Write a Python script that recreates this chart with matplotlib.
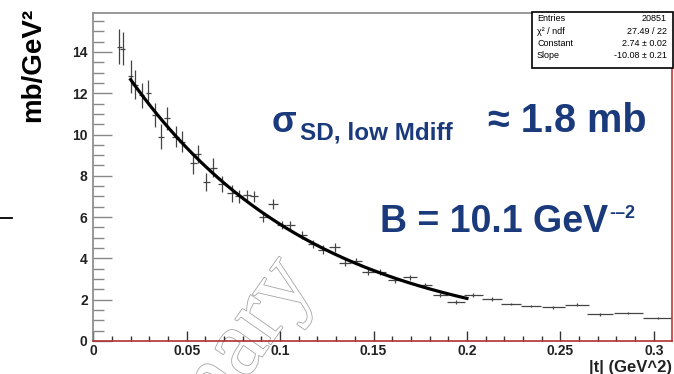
import numpy as np
import matplotlib
matplotlib.use('Agg')
from matplotlib import pyplot as plt
from matplotlib import patheffects as pe
from matplotlib.patches import Rectangle
from matplotlib.ticker import MultipleLocator

# |t| bin centres, cross sections and errors
t_vals = [0.0139, 0.0157, 0.0200, 0.0223, 0.0259, 0.0295, 0.0330, 0.0361, 0.0393, 0.0440,
          0.0475, 0.0535, 0.0558, 0.0605, 0.0642, 0.0690, 0.0740, 0.0780, 0.0822, 0.0862,
          0.0910, 0.0962, 0.1008, 0.1055, 0.1116, 0.1178, 0.1231, 0.1292, 0.1347, 0.1408,
          0.1472, 0.1535, 0.1615, 0.1695, 0.1776, 0.1856, 0.1940, 0.2034, 0.2133, 0.2236,
          0.2343, 0.2463, 0.2588, 0.2712, 0.2864, 0.3025]
dsig = [14.25, 14.15, 12.83, 12.40, 11.90, 12.02, 10.94, 9.90, 10.78, 9.90,
        9.65, 8.60, 9.05, 7.71, 8.40, 7.60, 7.15, 7.00, 7.07, 7.00,
        6.02, 6.62, 5.62, 5.62, 5.13, 4.70, 4.43, 4.53, 3.80, 3.86,
        3.36, 3.36, 2.95, 3.08, 2.71, 2.23, 1.90, 2.23, 2.03, 1.79,
        1.69, 1.63, 1.76, 1.29, 1.34, 1.10]
dsig_err = [0.85, 0.80, 0.80, 0.70, 0.60, 0.60, 0.60, 0.60, 0.55, 0.50,
            0.50, 0.50, 0.45, 0.45, 0.45, 0.40, 0.40, 0.30, 0.25, 0.25,
            0.25, 0.25, 0.20, 0.20, 0.20, 0.20, 0.20, 0.20, 0.15, 0.15,
            0.15, 0.15, 0.12, 0.12, 0.12, 0.10, 0.10, 0.08, 0.08, 0.06,
            0.06, 0.06, 0.06, 0.06, 0.05, 0.05]
t_halfbin = [0.0012, 0.0012, 0.0015, 0.0015, 0.0015, 0.0015, 0.0015, 0.0015, 0.0015, 0.0018,
             0.0018, 0.0020, 0.0020, 0.0020, 0.0020, 0.0022, 0.0022, 0.0022, 0.0022, 0.0022,
             0.0025, 0.0025, 0.0025, 0.0025, 0.0027, 0.0027, 0.0027, 0.0030, 0.0030, 0.0030,
             0.0032, 0.0032, 0.0035, 0.0035, 0.0038, 0.0040, 0.0047, 0.0052, 0.0052, 0.0055,
             0.0055, 0.0060, 0.0065, 0.0069, 0.0079, 0.0080]

# exponential fit, from the stats box
fit_const = 2.74
fit_slope = -10.08
fit_range = (0.02, 0.2)

stats_names = ['Entries', 'χ² / ndf', 'Constant', 'Slope']
stats_values = ['20851', '27.49 / 22', '2.74 ± 0.02', '-10.08 ± 0.21']

plt.rcParams['font.family'] = ['Liberation Sans', 'DejaVu Sans']
navy = '#1a3a7c'
W, H = 674, 374

fig = plt.figure(figsize=(W / 100, H / 100), dpi=100)
ax = fig.add_axes([93.3 / W, 1 - 341 / H, (671.7 - 93.3) / W, (341 - 13.3) / H])
ax.patch.set_visible(False)

ax.errorbar(t_vals, dsig, yerr=dsig_err, xerr=t_halfbin, fmt='none',
            ecolor='#444444', elinewidth=0.9, capsize=0, zorder=2)
tf = np.linspace(fit_range[0], fit_range[1], 200)
ax.plot(tf, np.exp(fit_const + fit_slope * tf), color='black', lw=2.3, zorder=3)

ax.set_xlim(0, 0.3096)
ax.set_ylim(0, 15.87)
ax.xaxis.set_major_locator(MultipleLocator(0.05))
ax.xaxis.set_minor_locator(MultipleLocator(0.01))
ax.yaxis.set_major_locator(MultipleLocator(2))
ax.yaxis.set_minor_locator(MultipleLocator(0.5))
ax.set_xticks([0, 0.05, 0.1, 0.15, 0.2, 0.25, 0.3])
ax.set_xticklabels(['0', '0.05', '0.1', '0.15', '0.2', '0.25', '0.3'])
ax.set_yticks([0, 2, 4, 6, 8, 10, 12, 14])

ax.tick_params(axis='y', which='major', direction='in', length=14, width=1, color='#888888',
               labelsize=10, pad=4, right=False)
ax.tick_params(axis='y', which='minor', direction='in', length=8, width=1, color='#888888', right=False)
ax.tick_params(axis='x', which='major', direction='in', length=7, width=1, color='#333333',
               labelsize=10, pad=2, top=False)
ax.tick_params(axis='x', which='minor', direction='in', length=3.6, width=1, color='#333333', top=False)
for lab in ax.get_xticklabels() + ax.get_yticklabels():
    lab.set_fontweight('bold')
    lab.set_color('#222222')

ax.spines['left'].set_color('#888888')
ax.spines['top'].set_color('#888888')
ax.spines['right'].set_color('#cc3333')
ax.spines['bottom'].set_color('#b03030')
for s in ax.spines.values():
    s.set_linewidth(1.2)

# axis titles
fig.text(33 / W, 1 - 8 / H, 'mb/GeV²', rotation=90, ha='center', va='top',
         fontsize=20, fontweight='bold')
fig.text(672 / W, 1 - 372 / H, '|t| (GeV^2)', ha='right', va='baseline',
         fontsize=12, fontweight='bold', color='#222222')

# little dash at the left edge
fig.add_artist(plt.Line2D([0, 12 / W], [1 - 218 / H, 1 - 218 / H], color='black', lw=1.3))

# watermark
fig.text(315 / W, 1 - 281 / H, 'Preliminary', family='Liberation Serif', fontsize=68,
         rotation=55, rotation_mode='anchor', ha='right', va='baseline', color='white',
         zorder=-5, path_effects=[pe.Stroke(linewidth=1.2, foreground='#a5a5a5'), pe.Normal()])

# annotations
fig.text(272 / W, 1 - 132 / H, 'σ', fontsize=26, fontweight='bold', color=navy, va='baseline')
fig.text(300 / W, 1 - 140 / H, 'SD, low Mdiff', fontsize=17.5, fontweight='bold', color=navy, va='baseline')
fig.text(488 / W, 1 - 132 / H, '≈ 1.8 mb', fontsize=28.5, fontweight='bold', color=navy, va='baseline')
fig.text(380 / W, 1 - 232 / H, 'B = 10.1 GeV', fontsize=27, fontweight='bold', color=navy, va='baseline')
fig.text(609 / W, 1 - 218 / H, '-\u20132', fontsize=13, fontweight='bold', color=navy, va='baseline')

# stats box
bx0, by0, bx1, by1 = 531.7, 11.7, 673, 68
fig.add_artist(Rectangle((bx0 / W, 1 - by1 / H), (bx1 - bx0) / W, (by1 - by0) / H,
                         facecolor='white', edgecolor='black', lw=1.2, zorder=5))
for i, (nm, vl) in enumerate(zip(stats_names, stats_values)):
    yy = 1 - (21 + i * 12.5) / H
    fig.text(537 / W, yy, nm, fontsize=6.5, va='baseline', ha='left', zorder=6)
    fig.text(667 / W, yy, vl, fontsize=6.5, va='baseline', ha='right', zorder=6)

fig.savefig('out.png', dpi=100)
